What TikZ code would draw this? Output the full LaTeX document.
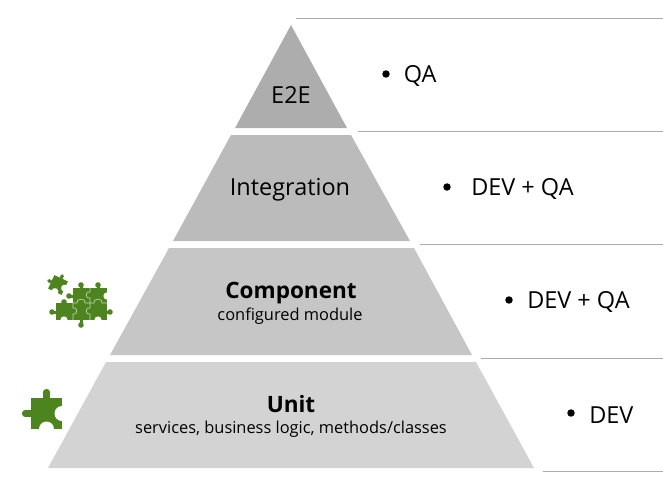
\documentclass[tikz,border=0pt]{standalone}
\usepackage{fontspec}
\setmainfont{Open Sans}
\definecolor{tierA}{HTML}{ADADAD}
\definecolor{tierB}{HTML}{BBBBBB}
\definecolor{tierC}{HTML}{C6C6C6}
\definecolor{tierD}{HTML}{D3D3D3}
\definecolor{piecegreen}{HTML}{4E8420}
\definecolor{seamgreen}{HTML}{C4D8B0}
\definecolor{rulegray}{HTML}{ABABAB}
\tikzset{
  piece/.pic={
    \fill[piecegreen] (-15.5,-15.5) rectangle (15.5,15.5);
    \fill[piecegreen] (-3.2,-15) rectangle (3.2,-21);
    \fill[piecegreen] (0,-21) circle (3.6);
    \fill[piecegreen] (-15,-3.2) rectangle (-21,3.2);
    \fill[piecegreen] (-21,0) circle (3.6);
    \fill[white] (15.5,0) circle (7.5);
    \fill[white] (0,15.5) circle (7.5);
  }
}
\begin{document}
\begin{tikzpicture}[
    x=0.75pt, y=-0.75pt,
    label/.style={inner sep=0pt, text=black},
    big/.style={font=\fontsize{17.6}{21}\selectfont},
    bigbold/.style={font=\fontsize{16.9}{21}\selectfont\bfseries},
    small/.style={font=\fontsize{12.3}{15}\selectfont},
    rulel/.style={rulegray, line width=0.75pt},
    seam/.style={seamgreen, line width=0.5pt},
    bullet/.style={circle, fill=black, inner sep=0pt, minimum size=5.6pt}
]
  \useasboundingbox (0,0) rectangle (663,490);

  % tiers
  \fill[tierA] (291,25) -- (347,128) -- (235,128) -- cycle;
  \fill[tierB] (231,135) -- (351,135) -- (410,241) -- (173,241) -- cycle;
  \fill[tierC] (169,248) -- (414,248) -- (472,355) -- (110,355) -- cycle;
  \fill[tierD] (106,362) -- (476,362) -- (534,468) -- (48,468) -- cycle;

  % tier labels
  \node[label, big] (E) at (291,95) {E2E};
  \node[label, big] (I) at (290,190) {Integration};
  \node[label, bigbold] (C) at (291,293) {Component};
  \node[label, small] (Cs) at (290,316) {configured module};
  \node[label, bigbold] (U) at (291,404) {Unit};
  \node[label, small] (Us) at (291,429) {services, business logic, methods/classes};

  % rules
  \draw[rulel] (296,18) -- (663,18);
  \draw[rulel] (358,131) -- (663,131);
  \draw[rulel] (420,244) -- (663,244);
  \draw[rulel] (481,358) -- (663,358);
  \draw[rulel] (543,471) -- (663,471);

  % bullets
  \node[bullet] (b1) at (386,74) {};
  \node[bullet] (b2) at (447,187) {};
  \node[bullet] (b3) at (509,300) {};
  \node[bullet] (b4) at (571,413) {};
  \node[label, big, anchor=west] (t1) at (403.5,76) {QA};
  \node[label, big, anchor=west] (t2) at (471,189) {DEV + QA};
  \node[label, big, anchor=west] (t3) at (527,302) {DEV + QA};
  \node[label, big, anchor=west] (t4) at (589,415) {DEV};

  % puzzle pieces
  \pic at (46.5,413.5) {piece};
  \pic[scale=0.48, rotate=-25] at (58,285) {piece};

  % group of five
  \fill[piecegreen] (73,288) rectangle (107,303);
  \fill[piecegreen] (56,303) rectangle (107,320);
  \foreach \kx/\ky in {81/285, 98/285, 69/296, 64/302, 52/312, 110/312, 81/325}
    \fill[piecegreen] (\kx,\ky) circle (2.8);
  \fill[piecegreen] (79.5,284) rectangle (82.5,288);
  \fill[piecegreen] (96.5,284) rectangle (99.5,288);
  \fill[piecegreen] (69,294.5) rectangle (73,297.5);
  \fill[piecegreen] (62.5,301) rectangle (65.5,303);
  \fill[piecegreen] (52,310.5) rectangle (56,313.5);
  \fill[piecegreen] (107,310.5) rectangle (110,313.5);
  \fill[piecegreen] (79.5,320) rectangle (82.5,325);
  \fill[white] (64,320) circle (3.6);
  \fill[white] (98,320) circle (3.6);
  \fill[white] (107,296) circle (3.6);
  \draw[seam] (73,303) -- (77,303) .. controls (75,298) and (87,298) .. (85,303) -- (94,303) .. controls (92,298) and (104,298) .. (102,303) -- (107,303);
  \draw[seam] (90,288) -- (90,292) .. controls (85,290) and (85,300) .. (90,298) -- (90,303);
  \draw[seam] (90,303) -- (90,308) .. controls (85,306) and (85,316) .. (90,314) -- (90,320);
  \draw[seam] (73,303) -- (73,308) .. controls (78,306) and (78,316) .. (73,314) -- (73,320);
\end{tikzpicture}
\end{document}
